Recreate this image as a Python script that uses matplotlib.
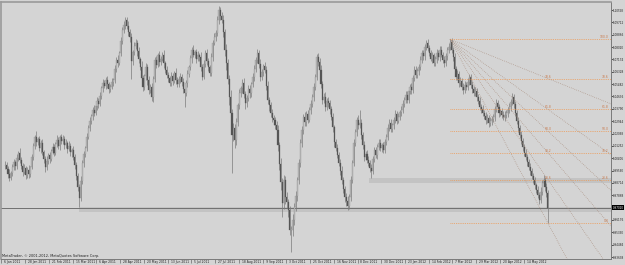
import numpy as np
import matplotlib.pyplot as plt
from matplotlib.patches import Rectangle
from matplotlib.transforms import blended_transform_factory

# AUDUSD daily, 6 Jan 2011 .. end of May 2012
first_open = 0.9985
closes = [
    0.9997, 0.9968, 0.9935, 0.9902, 0.9941, 0.9978, 1.0012, 0.9985, 1.0040, 1.0076,
    1.0031, 0.9987, 0.9948, 0.9972, 0.9925, 0.9961, 0.9933, 0.9978, 1.0052, 1.0121,
    1.0186, 1.0152, 1.0171, 1.0108, 1.0145, 1.0083, 1.0032, 0.9980, 1.0024, 1.0061,
    1.0035, 1.0092, 1.0117, 1.0079, 1.0138, 1.0164, 1.0121, 1.0186, 1.0158, 1.0172,
    1.0131, 1.0145, 1.0102, 1.0126, 1.0081, 1.0095, 1.0049, 0.9992, 0.9921, 0.9844,
    0.9768, 0.9885, 1.0008, 1.0067, 1.0112, 1.0185, 1.0248, 1.0296, 1.0329, 1.0371,
    1.0352, 1.0398, 1.0435, 1.0412, 1.0468, 1.0521, 1.0556, 1.0538, 1.0574, 1.0549,
    1.0512, 1.0529, 1.0561, 1.0576, 1.0652, 1.0713, 1.0694, 1.0761, 1.0843, 1.0919,
    1.0952, 1.0987, 1.0944, 1.0902, 1.0870, 1.0705, 1.0768, 1.0812, 1.0830, 1.0776,
    1.0721, 1.0666, 1.0590, 1.0529, 1.0602, 1.0666, 1.0574, 1.0508, 1.0531, 1.0460,
    1.0585, 1.0713, 1.0682, 1.0745, 1.0698, 1.0721, 1.0748, 1.0690, 1.0645, 1.0612,
    1.0587, 1.0556, 1.0604, 1.0571, 1.0623, 1.0576, 1.0549, 1.0583, 1.0597, 1.0560,
    1.0512, 1.0487, 1.0556, 1.0618, 1.0666, 1.0725, 1.0782, 1.0751, 1.0768, 1.0723,
    1.0746, 1.0734, 1.0668, 1.0597, 1.0689, 1.0761, 1.0705, 1.0662, 1.0624, 1.0731,
    1.0830, 1.0872, 1.0898, 1.0985, 1.1056, 1.1018, 1.0987, 1.0905, 1.0782, 1.0690,
    1.0585, 1.0460, 1.0352, 1.0200, 1.0245, 1.0165, 1.0290, 1.0402, 1.0487, 1.0520,
    1.0556, 1.0478, 1.0419, 1.0455, 1.0512, 1.0487, 1.0548, 1.0597, 1.0652, 1.0713,
    1.0761, 1.0688, 1.0597, 1.0631, 1.0672, 1.0645, 1.0538, 1.0439, 1.0402, 1.0350,
    1.0318, 1.0302, 1.0265, 1.0234, 1.0128, 1.0002, 0.9875, 0.9731, 0.9891, 0.9775,
    0.9742, 0.9686, 0.9549, 0.9552, 0.9618, 0.9707, 0.9785, 0.9891, 1.0008, 1.0145,
    1.0234, 1.0323, 1.0286, 1.0342, 1.0305, 1.0371, 1.0412, 1.0460, 1.0528, 1.0597,
    1.0734, 1.0702, 1.0645, 1.0548, 1.0439, 1.0461, 1.0392, 1.0435, 1.0419, 1.0375,
    1.0323, 1.0251, 1.0150, 1.0112, 1.0065, 1.0008, 0.9952, 0.9891, 0.9830, 0.9775,
    0.9750, 0.9712, 0.9775, 0.9890, 1.0008, 1.0145, 1.0218, 1.0302, 1.0265, 1.0280,
    1.0200, 1.0128, 1.0049, 1.0072, 1.0031, 1.0008, 0.9975, 0.9950, 1.0038, 1.0097,
    1.0062, 1.0118, 1.0145, 1.0112, 1.0131, 1.0097, 1.0152, 1.0186, 1.0250, 1.0285,
    1.0241, 1.0268, 1.0302, 1.0346, 1.0298, 1.0323, 1.0354, 1.0371, 1.0415, 1.0439,
    1.0476, 1.0442, 1.0498, 1.0529, 1.0508, 1.0589, 1.0645, 1.0612, 1.0638, 1.0666,
    1.0712, 1.0761, 1.0739, 1.0803, 1.0830, 1.0798, 1.0761, 1.0722, 1.0745, 1.0693,
    1.0718, 1.0761, 1.0734, 1.0782, 1.0751, 1.0716, 1.0693, 1.0740, 1.0782, 1.0805,
    1.0837, 1.0780, 1.0734, 1.0652, 1.0597, 1.0618, 1.0556, 1.0572, 1.0531, 1.0508,
    1.0545, 1.0529, 1.0566, 1.0597, 1.0543, 1.0512, 1.0487, 1.0502, 1.0460, 1.0431,
    1.0392, 1.0378, 1.0350, 1.0331, 1.0302, 1.0318, 1.0282, 1.0296, 1.0309, 1.0323,
    1.0376, 1.0419, 1.0388, 1.0350, 1.0362, 1.0340, 1.0323, 1.0335, 1.0350, 1.0371,
    1.0392, 1.0428, 1.0460, 1.0412, 1.0350, 1.0298, 1.0245, 1.0200, 1.0158, 1.0117,
    1.0078, 1.0049, 1.0012, 0.9980, 0.9952, 0.9918, 0.9891, 0.9856, 0.9823, 0.9790,
    0.9754, 0.9812, 0.9868, 0.9891, 0.9845, 0.9802, 0.9702,
]
# wick lengths in pips above / below the body
upper_wick = [
    22, 15, 18, 30, 12, 25, 20, 16, 28, 14,
    35, 18, 22, 27, 14, 20, 31, 12, 19, 24,
    16, 40, 13, 22, 18, 26, 15, 21, 30, 17,
    24, 12, 28, 19, 15, 33, 20, 14, 22, 26,
    18, 25, 13, 30, 21, 16, 27, 19, 24, 15,
    20, 35, 18, 22, 14, 28, 17, 25, 13, 20,
    32, 16, 22, 19, 26, 14, 30, 18, 23, 27,
    15, 21, 28, 17, 24, 19, 33, 12, 26, 20,
    29, 21, 18, 35, 22, 27, 16, 24, 30, 19,
    25, 14, 38, 20, 17, 29, 22, 31, 15, 26,
    18, 24, 30, 16, 27, 21, 19, 33, 14, 25,
    22, 17, 28, 20, 15, 36, 24, 18, 26, 21,
    30, 19, 23, 27, 16, 25, 20, 31, 17, 22,
    26, 18, 34, 15, 24, 20, 29, 22, 16, 28,
    21, 25, 19, 30, 24, 17, 26, 35, 22, 40,
    33, 28, 45, 24, 38, 30, 26, 20, 29, 18,
    25, 36, 22, 19, 27, 31, 16, 24, 28, 21,
    26, 19, 33, 22, 17, 28, 24, 30, 21, 25,
    29, 22, 18, 31, 36, 24, 40, 27, 33, 28,
    35, 22, 30, 26, 41, 25, 32, 20, 28, 24,
    27, 19, 31, 23, 26, 20, 29, 22, 25, 18,
    21, 28, 24, 33, 19, 26, 30, 17, 24, 22,
    26, 30, 19, 24, 28, 21, 25, 33, 18, 22,
    24, 29, 20, 31, 17, 25, 22, 19, 35, 91,
    28, 21, 33, 18, 24, 26, 20, 27, 19, 23,
    22, 18, 25, 30, 16, 24, 21, 19, 27, 23,
    25, 17, 22, 28, 20, 24, 19, 26, 21, 18,
    23, 27, 18, 21, 25, 19, 24, 28, 20, 22,
    26, 20, 24, 18, 22, 27, 19, 23, 25, 17,
    21, 26, 19, 24, 28, 20, 23, 18, 22, 27,
    19, 24, 22, 28, 20, 25, 21, 26, 19, 23,
    24, 20, 27, 18, 23, 26, 21, 25, 19, 22,
    26, 21, 24, 19, 23, 28, 20, 25, 22, 18,
    22, 27, 20, 24, 18, 25, 21, 26, 23, 19,
    24, 21, 26, 20, 23, 19, 25, 22, 27, 20,
    21, 25, 19, 23, 26, 20, 24, 22, 18, 25,
    22, 28, 24, 34, 20, 26, 23,
]
lower_wick = [
    18, 25, 30, 20, 14, 22, 17, 28, 15, 21,
    26, 19, 32, 15, 24, 18, 27, 20, 13, 22,
    17, 28, 21, 16, 30, 19, 24, 35, 18, 22,
    29, 16, 20, 25, 18, 22, 14, 27, 21, 17,
    24, 19, 28, 15, 22, 30, 18, 25, 33, 27,
    61, 22, 18, 25, 16, 20, 14, 23, 19, 26,
    21, 17, 24, 28, 15, 20, 26, 18, 22, 30,
    25, 19, 16, 27, 21, 18, 29, 14, 22, 17,
    23, 28, 19, 26, 31, 125, 24, 18, 21, 33,
    27, 22, 35, 29, 18, 24, 30, 26, 19, 28,
    32, 20, 25, 18, 27, 22, 16, 29, 24, 21,
    26, 19, 23, 30, 17, 25, 21, 18, 24, 28,
    22, 97, 20, 26, 18, 24, 29, 17, 23, 27,
    19, 25, 30, 22, 16, 21, 27, 24, 20, 18,
    23, 17, 26, 20, 28, 31, 22, 36, 40, 45,
    38, 52, 47, 260, 41, 55, 36, 30, 27, 24,
    33, 28, 41, 26, 22, 35, 25, 20, 27, 24,
    21, 30, 26, 19, 28, 23, 32, 27, 35, 29,
    26, 31, 24, 28, 39, 45, 52, 93, 37, 48,
    41, 50, 36, 151, 44, 33, 29, 35, 27, 31,
    25, 30, 22, 27, 24, 19, 28, 21, 26, 23,
    20, 27, 31, 24, 29, 22, 26, 19, 25, 30,
    24, 28, 32, 21, 26, 23, 29, 25, 27, 31,
    38, 26, 22, 30, 19, 24, 21, 28, 23, 20,
    27, 23, 29, 20, 25, 22, 26, 45, 18, 24,
    21, 26, 19, 23, 28, 20, 24, 18, 22, 25,
    23, 19, 26, 21, 24, 18, 22, 27, 20, 24,
    20, 25, 22, 18, 26, 23, 19, 24, 21, 27,
    24, 19, 23, 27, 20, 25, 22, 18, 26, 21,
    22, 27, 20, 25, 19, 23, 28, 21, 24, 20,
    25, 21, 26, 19, 24, 22, 27, 20, 23, 26,
    20, 24, 22, 27, 19, 25, 21, 23, 26, 22,
    23, 26, 20, 24, 28, 21, 25, 19, 27, 22,
    25, 20, 23, 27, 21, 24, 19, 26, 22, 24,
    22, 25, 21, 26, 23, 20, 27, 24, 21, 25,
    24, 20, 26, 22, 25, 21, 23, 27, 20, 24,
    26, 23, 25, 21, 28, 24, 106,
]

date_labels = ["6 Jan 2011", "28 Jan 2011", "21 Feb 2011", "15 Mar 2011", "6 Apr 2011",
               "28 Apr 2011", "20 May 2011", "13 Jun 2011", "5 Jul 2011", "27 Jul 2011",
               "18 Aug 2011", "9 Sep 2011", "3 Oct 2011", "25 Oct 2011", "16 Nov 2011",
               "8 Dec 2011", "30 Dec 2011", "23 Jan 2012", "14 Feb 2012", "7 Mar 2012",
               "29 Mar 2012", "20 Apr 2012", "14 May 2012"]
price_ticks = [1.10558, 1.09712, 1.08866, 1.08020, 1.07174, 1.06328, 1.05482,
               1.04636, 1.03790, 1.02944, 1.02098, 1.01252, 1.00406, 0.99560,
               0.98714, 0.97868, 0.96176, 0.95330, 0.94484, 0.93638]
# support zones (start bar, bottom, top)
zones = [(49.6, 0.96721, 0.97084), (245.5, 0.98708, 0.99050)]
fib_levels = [0.0, 23.6, 38.2, 50.0, 61.8, 78.6, 100.0]
fib_start = 300

opens = np.array([first_open] + closes[:-1])
c = np.array(closes)
hi = np.maximum(opens, c) + np.array(upper_wick) / 10000
lo = np.minimum(opens, c) - np.array(lower_wick) / 10000
n = len(c)
x = np.arange(n)

bg = '#d4d4d4'
fig = plt.figure(figsize=(6.25, 2.65), dpi=100, facecolor=bg)
ax = fig.add_axes([0.0024, 0.0245, 0.9752, 0.9698])
ax.set_facecolor(bg)
x_end = 408.5
ax.set_xlim(-0.34, x_end)
ax.set_ylim(0.93536, 1.11140)

for x0, b, t in zones:
    ax.add_patch(Rectangle((x0, b), x_end - x0, t - b, fc='#c3c3c3', ec='none', zorder=1))

ax.axhline(c[-1], color='#707070', lw=0.7, zorder=2)

# candles
ax.vlines(x, lo, hi, color='#7c7c7c', lw=0.5, zorder=3)
up = c >= opens
body = np.maximum(np.abs(c - opens), 0.0004)
bottom = np.minimum(opens, c)
ax.bar(x[up], body[up], bottom=bottom[up], width=0.7, color='#bcbcbc',
       edgecolor='#8a8a8a', lw=0.2, zorder=4)
ax.bar(x[~up], body[~up], bottom=bottom[~up], width=0.7, color='#555555',
       edgecolor='#555555', lw=0.2, zorder=4)

# fibonacci retracement + fan from the Feb/Mar 2012 high to the last low
fib_col = '#ee9a55'
fan_col = '#a88c7c'
f_hi = hi[fib_start]
f_lo = lo[-1]
x2 = n - 1
for L in fib_levels:
    p = f_lo + L / 100 * (f_hi - f_lo)
    ax.hlines(p, fib_start, x_end, colors=fib_col, linestyles=(0, (1, 1.2)),
              lw=0.6, zorder=5)
    if L < 100:
        p_end = f_hi + (p - f_hi) * (x_end - fib_start) / (x2 - fib_start)
        ax.plot([fib_start, x_end], [f_hi, p_end], ls=(0, (1, 1.8)), color=fan_col,
                lw=0.5, zorder=5)
    ax.text(x_end - 1.5, p, f'{L:.1f}', ha='right', va='bottom', fontsize=2.2,
            color='#c8784a', zorder=6)
    if 0 < L < 100:
        ax.text(x2, p, f'{L:.1f}', ha='center', va='bottom', fontsize=2.2,
                color='#c8784a', zorder=6)

# axes look
for side in ['top', 'left']:
    ax.spines[side].set_color('#9a9a9a')
    ax.spines[side].set_linewidth(1.2)
for side in ['right', 'bottom']:
    ax.spines[side].set_color('#7a7a7a')
    ax.spines[side].set_linewidth(0.7)

ax.yaxis.tick_right()
ax.set_yticks(price_ticks)
ax.set_yticklabels([f'{v:.5f}' for v in price_ticks])
ax.tick_params(axis='y', direction='out', length=1.2, width=0.5, pad=0.4,
               labelsize=1.95, colors='#202020')

tick_pos = [16 * k - 2.39 for k in range(len(date_labels))]
ax.set_xticks(tick_pos)
ax.set_xticklabels([])
ax.tick_params(axis='x', direction='out', length=3, width=0.4, colors='#505050')
tr = blended_transform_factory(ax.transData, ax.transAxes)
for pos, lab in zip(tick_pos, date_labels):
    ax.text(pos + 2, -0.013, lab, transform=tr, ha='left', va='center',
            fontsize=2.2, color='#202020', clip_on=False)

ax.text(0.001, 0.011, 'MetaTrader, © 2001-2012, MetaQuotes Software Corp.',
        transform=ax.transAxes, ha='left', va='center', fontsize=2.5, color='#202020')

tr_y = blended_transform_factory(ax.transAxes, ax.transData)
ax.text(1.003, c[-1], f'{c[-1]:.5f}', transform=tr_y, ha='left', va='center',
        fontsize=1.95, color='white', clip_on=False, zorder=10,
        bbox=dict(fc='black', ec='none', pad=0.3))

fig.savefig('out.png', dpi=100, facecolor=bg)
